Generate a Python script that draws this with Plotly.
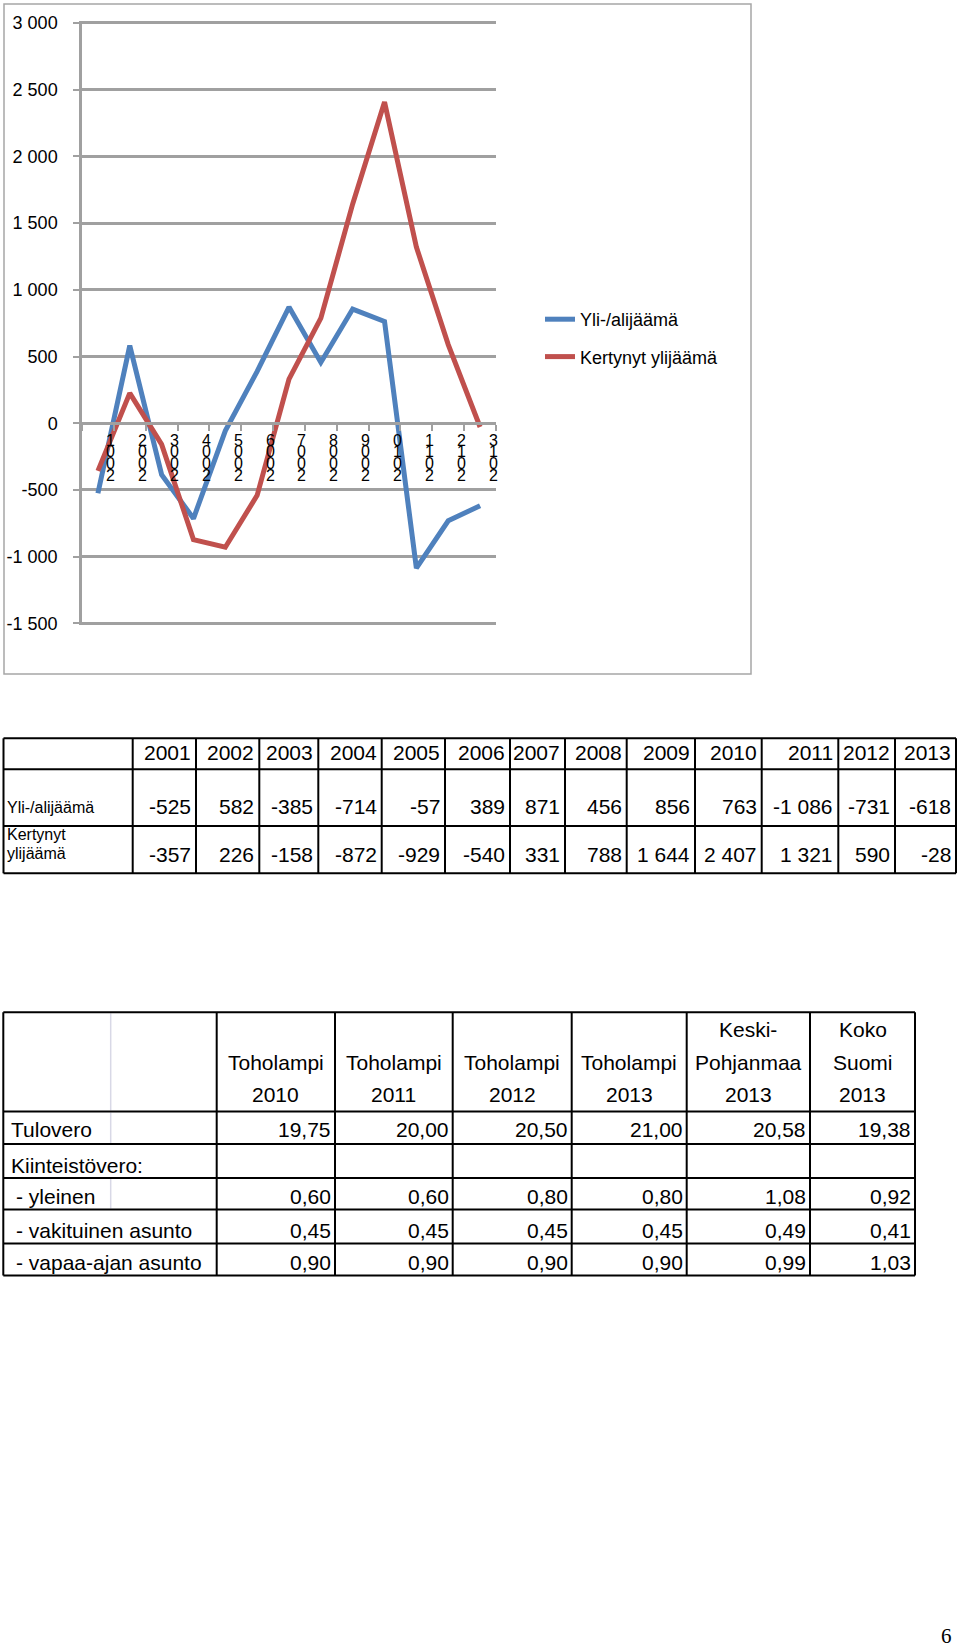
import plotly.graph_objects as go

W, H = 960, 1649

# ---------------- data ----------------
years = ["2001", "2002", "2003", "2004", "2005", "2006", "2007",
         "2008", "2009", "2010", "2011", "2012", "2013"]
surplus = [-525, 582, -385, -714, -57, 389, 871, 456, 856, 763, -1086, -731, -618]
cumulative = [-357, 226, -158, -872, -929, -540, 331, 788, 1644, 2407, 1321, 590, -28]
series_names = ["Yli-/alijäämä", "Kertynyt ylijäämä"]
series_colors = ["#4F81BD", "#C0504D"]

y_tick_values = [-1500, -1000, -500, 0, 500, 1000, 1500, 2000, 2500, 3000]
y_tick_labels = ["-1 500", "-1 000", "-500", "0", "500", "1 000", "1 500", "2 000", "2 500", "3 000"]

table1_row_labels = ["Yli-/alijäämä", "Kertynyt\nylijäämä"]

tax_headers = ["Toholampi\n2010", "Toholampi\n2011", "Toholampi\n2012", "Toholampi\n2013",
               "Keski-\nPohjanmaa\n2013", "Koko\nSuomi\n2013"]
tax_row_labels = ["Tulovero", "Kiinteistövero:", " - yleinen", " - vakituinen asunto", " - vapaa-ajan asunto"]
tax_tulovero = [19.75, 20.00, 20.50, 21.00, 20.58, 19.38]
tax_kiinteisto = [None, None, None, None, None, None]
tax_yleinen = [0.60, 0.60, 0.80, 0.80, 1.08, 0.92]
tax_vakituinen = [0.45, 0.45, 0.45, 0.45, 0.49, 0.41]
tax_vapaa = [0.90, 0.90, 0.90, 0.90, 0.99, 1.03]

page_number = "6"

# ---------------- helpers ----------------
FONT = "Liberation Sans, Arial, Helvetica, sans-serif"
SERIF = "Liberation Serif, Times New Roman, serif"
GRID = "#A0A0A0"


def px(x):
    return x / W


def py(y):
    return 1 - y / H


def fmt_int(v):
    return f"{v:,}".replace(",", " ")


def fmt_dec(v):
    return "" if v is None else f"{v:.2f}".replace(".", ",")


annotations = []
shapes = []


def text_at(x, baseline, s, size, anchor="left", family=FONT, color="black"):
    center = baseline - 0.347 * size
    annotations.append(dict(
        x=px(x), y=py(center), xref="paper", yref="paper",
        text=s, showarrow=False, xanchor=anchor, yanchor="middle",
        borderpad=0, font=dict(family=family, size=size, color=color)))


def hline(x0, x1, y, color="black", width=2):
    shapes.append(dict(type="line", xref="paper", yref="paper",
                       x0=px(x0), x1=px(x1), y0=py(y), y1=py(y),
                       line=dict(color=color, width=width)))


def vline(x, y0, y1, color="black", width=2):
    shapes.append(dict(type="line", xref="paper", yref="paper",
                       x0=px(x), x1=px(x), y0=py(y0), y1=py(y1),
                       line=dict(color=color, width=width)))


# ---------------- chart ----------------
PLOT_L, PLOT_R = 82, 496
PLOT_T, PLOT_B = 23, 623.4
y_min, y_max = y_tick_values[0], y_tick_values[-1]
pad_u = 15
ppu = (PLOT_B - PLOT_T) / (y_max - y_min)
r0, r1 = y_min - pad_u, y_max + pad_u
dom_y = [py(PLOT_B + pad_u * ppu), py(PLOT_T - pad_u * ppu)]
zero_pos = dom_y[0] + (0 - r0) / (r1 - r0) * (dom_y[1] - dom_y[0])

xs = list(range(len(years)))

fig = go.Figure()
for name, vals, col in zip(series_names, [surplus, cumulative], series_colors):
    fig.add_trace(go.Scatter(
        x=xs, y=vals, name=name, mode="lines", legendgroup=name,
        line=dict(color=col, width=5), hoverinfo="skip"))

# chart frame
shapes.append(dict(type="rect", xref="paper", yref="paper",
                   x0=px(4), x1=px(751), y0=py(674), y1=py(4),
                   line=dict(color="#A6A6A6", width=1.5), layer="below"))

# stacked category labels at the category boundaries
for i, yr in enumerate(years):
    for k, ch in enumerate(reversed(yr)):
        annotations.append(dict(
            x=i + 0.5, y=0, xref="x", yref="y", text=ch, showarrow=False,
            xanchor="center", yanchor="middle", xshift=-3,
            yshift=-(17.0 + 11.6 * k), borderpad=0,
            font=dict(family=FONT, size=16, color="black")))

# ---------------- table 1 ----------------
t1_cols = [3.5, 132.7, 196, 259.3, 318.3, 381.7, 445, 510, 565, 626.7, 695, 761.7, 838.3, 895, 956]
t1_rows = [738.3, 769.3, 826, 873.3]
for r in t1_rows:
    hline(t1_cols[0], t1_cols[-1], r)
for c in t1_cols:
    vline(c, t1_rows[0], t1_rows[-1])

header_base, row_bases = 760, [813.3, 862]
for j, yr in enumerate(years):
    text_at(t1_cols[j + 2] - 4, header_base, yr, 21, "right")
    text_at(t1_cols[j + 2] - 4, row_bases[0], fmt_int(surplus[j]), 21, "right")
    text_at(t1_cols[j + 2] - 4, row_bases[1], fmt_int(cumulative[j]), 21, "right")

text_at(6, row_bases[0], table1_row_labels[0], 16, "left")
lab_lines = table1_row_labels[1].split("\n")
for k, ln in enumerate(lab_lines):
    text_at(6, 859 - (len(lab_lines) - 1 - k) * 18.5, ln, 16, "left")

# ---------------- table 2 ----------------
t2_cols = [3.3, 216.7, 335, 452.7, 571.7, 686.7, 810, 915]
t2_rows = [1012.3, 1111.5, 1144, 1178, 1209.5, 1243.5, 1275.5]
# faint inner line of first column
for (a, b) in [(0, 1), (1, 2), (3, 4)]:
    vline(110.7, t2_rows[a] + 1, t2_rows[b] - 1, color="#D8D8E6", width=1.5)
for r in t2_rows:
    hline(t2_cols[0], t2_cols[-1], r)
for c in t2_cols:
    vline(c, t2_rows[0], t2_rows[-1])

for j, head in enumerate(tax_headers):
    lines = head.split("\n")
    cx = (t2_cols[j + 1] + t2_cols[j + 2]) / 2
    for k, ln in enumerate(lines):
        text_at(cx, 1102 - (len(lines) - 1 - k) * 32.5, ln, 21, "center")

tax_values = [tax_tulovero, tax_kiinteisto, tax_yleinen, tax_vakituinen, tax_vapaa]
t2_bases = [1137, 1172.5, 1203.5, 1238, 1270]
for r, (lab, vals) in enumerate(zip(tax_row_labels, tax_values)):
    lx = 15 if lab.startswith(" ") else 10
    text_at(lx, t2_bases[r], lab.strip(), 21, "left")
    for j, v in enumerate(vals):
        s = fmt_dec(v)
        if s:
            text_at(t2_cols[j + 2] - 3, t2_bases[r], s, 21, "right")

# page number
text_at(953, 1643, page_number, 21, "right", family=SERIF)

fig.update_layout(
    width=W, height=H, margin=dict(l=0, r=0, t=0, b=0, autoexpand=False),
    paper_bgcolor="white", plot_bgcolor="white",
    showlegend=True,
    legend=dict(x=px(540), y=py(301), xanchor="left", yanchor="top",
                font=dict(family=FONT, size=18, color="black"),
                bgcolor="rgba(0,0,0,0)", tracegroupgap=11, traceorder="grouped"),
    xaxis=dict(domain=[px(PLOT_L), px(PLOT_R)], range=[-0.5, len(years) - 0.5],
               anchor="free", position=zero_pos, automargin=False,
               showgrid=False, zeroline=False, showline=True,
               linecolor=GRID, linewidth=2.5,
               tickmode="array", tickvals=[i - 0.5 for i in range(len(years) + 1)],
               ticks="outside", ticklen=6, tickcolor=GRID, tickwidth=2,
               showticklabels=False, fixedrange=True),
    yaxis=dict(domain=dom_y, range=[r0, r1], anchor="x", automargin=False,
               tickmode="array", tickvals=y_tick_values, ticktext=y_tick_labels,
               showgrid=True, gridcolor=GRID, gridwidth=2.5,
               zeroline=False, showline=True, linecolor=GRID, linewidth=2.5,
               ticks="outside", ticklen=6, tickcolor=GRID, tickwidth=2,
               ticklabelstandoff=12,
               tickfont=dict(family=FONT, size=18, color="black"), fixedrange=True),
    annotations=annotations,
    shapes=shapes,
)

fig.write_html("out.html")
